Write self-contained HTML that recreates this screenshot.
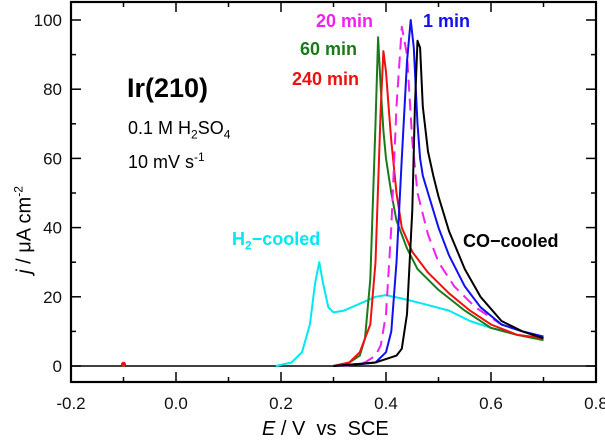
<!DOCTYPE html>
<html><head><meta charset="utf-8"><style>
body{margin:0;background:#fff;font-family:"Liberation Sans",sans-serif}
svg text{font-family:"Liberation Sans",sans-serif}
</style></head><body>
<svg id="c" width="605" height="442" xmlns="http://www.w3.org/2000/svg"></svg>
<script>
const xTicks=[-0.2,0.0,0.2,0.4,0.6,0.8];
const xTickLabels=["-0.2","0.0","0.2","0.4","0.6","0.8"];
const yTicks=[0,20,40,60,80,100];
const yTickLabels=["0","20","40","60","80","100"];
const blueE=[0.30,0.35,0.38,0.40,0.41,0.42,0.43,0.44,0.447,0.453,0.46,0.465,0.47,0.48,0.50,0.52,0.55,0.58,0.62,0.66,0.70];
const blueJ=[0,0.5,1,4,10,30,60,88,100,92,70,60,55,50,40,32,23,17,12,10,8.5];
const blackE=[0.30,0.38,0.42,0.43,0.44,0.45,0.455,0.46,0.465,0.47,0.48,0.49,0.50,0.52,0.55,0.58,0.62,0.66,0.70];
const blackJ=[0,1,3,5,15,45,75,94,92,75,62,55,49,39,28,20,13,10,8];
const greenE=[0.30,0.33,0.35,0.36,0.37,0.38,0.385,0.39,0.395,0.40,0.41,0.42,0.44,0.46,0.50,0.55,0.60,0.65,0.70];
const greenJ=[0,1,3,8,25,70,95,80,68,60,50,42,34,28,22,16,11,9,7.5];
const redE=[0.30,0.33,0.35,0.37,0.38,0.39,0.395,0.40,0.405,0.41,0.42,0.43,0.45,0.48,0.52,0.56,0.60,0.65,0.70];
const redJ=[0,1,4,12,30,75,91,85,75,65,50,40,33,27,21,16,12,9,8];
const magE=[0.32,0.36,0.38,0.39,0.40,0.41,0.42,0.43,0.44,0.45,0.46,0.48,0.50,0.53,0.57,0.62,0.66,0.70];
const magJ=[0,1,3,6,15,40,75,98,90,65,50,38,30,23,17,12,10,8];
const cyanE=[0.19,0.22,0.24,0.255,0.265,0.273,0.28,0.29,0.30,0.32,0.35,0.38,0.40,0.43,0.47,0.52,0.56,0.60,0.65,0.70];
const cyanJ=[0,1,4,12,24,30,24,17,15.5,16,18,20,20.5,19.5,18,16,13,11,9,8];

const svg=document.getElementById('c');
const NS='http://www.w3.org/2000/svg';
const X=e=>176+(e)*525;
const Y=j=>366-j*3.46;
function mk(t,a){const el=document.createElementNS(NS,t);for(const k in a)el.setAttribute(k,a[k]);svg.appendChild(el);return el;}
let f=mk('rect',{x:71,y:2,width:525,height:380,fill:'none',stroke:'#000','stroke-width':2.2});


let z=mk('line',{x1:71,x2:596,y1:Y(0),y2:Y(0),stroke:'#000','stroke-width':1.5});


for(let v=-0.2;v<=0.801;v+=0.1){const x=X(v);const maj=Math.abs(Math.round(v*10))%2===0;const l=maj?10:5;
 mk('line',{x1:x,x2:x,y1:382,y2:382-l,stroke:'#000','stroke-width':1.5});
 mk('line',{x1:x,x2:x,y1:2,y2:2+l,stroke:'#000','stroke-width':1.5});}
xTicks.forEach((v,i)=>{const t=mk('text',{x:X(v),y:409,'font-size':17,'text-anchor':'middle',fill:'#111'});t.textContent=xTickLabels[i];
 
 });
for(let v=0;v<=100;v+=10){const y=Y(v);const l=v%20===0?10:5;
 mk('line',{x1:71,x2:71+l,y1:y,y2:y,stroke:'#000','stroke-width':1.5});
 mk('line',{x1:596,x2:596-l,y1:y,y2:y,stroke:'#000','stroke-width':1.5});}
yTicks.forEach((v,i)=>{const t=mk('text',{x:62,y:Y(v)+6,'font-size':17,'text-anchor':'end',fill:'#111'});t.textContent=yTickLabels[i];
 
 });
function series(E,J,col,name,dash){const d=E.map((e,i)=>(i?'L':'M')+X(e).toFixed(1)+','+Y(J[i]).toFixed(1)).join('');
 const p=mk('path',{d:d,fill:'none',stroke:col,'stroke-width':2,'stroke-linejoin':'round'});if(dash)p.setAttribute('stroke-dasharray',dash);
 
 }
series(cyanE,cyanJ,'#00e8f0','series-h2-cooled');
series(greenE,greenJ,'#1a7a1a','series-60-min');
series(redE,redJ,'#f01010','series-240-min');
series(magE,magJ,'#f020f0','series-20-min','12,7');
series(blueE,blueJ,'#1010f0','series-1-min');
series(blackE,blackJ,'#000','series-co-cooled');
let dot=mk('circle',{cx:X(-0.1),cy:Y(0.5),r:2.5,fill:'#f01010'});


</script>
<div style="position:absolute;left:0;top:0;width:605px;height:442px;pointer-events:none">
<div style="position:absolute;left:24px;top:230px;transform:translate(-50%,-50%) rotate(-90deg);font-size:20px;white-space:nowrap"><i>j</i> / μA cm<sup style="font-size:12px">-2</sup></div>
<div style="position:absolute;left:262px;top:418px;font-size:20px;white-space:nowrap"><i>E</i> / V &nbsp;vs &nbsp;SCE</div>
<div style="position:absolute;left:127px;top:73px;font-size:27px;font-weight:bold">Ir(210)</div>
<div style="position:absolute;left:128px;top:118px;font-size:18px">0.1 M H<sub style="font-size:12px">2</sub>SO<sub style="font-size:12px">4</sub></div>
<div style="position:absolute;left:128px;top:150px;font-size:18px">10 mV s<sup style="font-size:12px">-1</sup></div>
<div style="position:absolute;left:316px;top:11px;font-size:18px;font-weight:bold;color:#f020f0">20 min</div>
<div style="position:absolute;left:423px;top:11px;font-size:18px;font-weight:bold;color:#1010f0">1 min</div>
<div style="position:absolute;left:300px;top:39px;font-size:18px;font-weight:bold;color:#1a7a1a">60 min</div>
<div style="position:absolute;left:292px;top:69px;font-size:18px;font-weight:bold;color:#f01010">240 min</div>
<div style="position:absolute;left:232px;top:229px;font-size:18px;font-weight:bold;color:#00e8f0">H<sub style="font-size:12px">2</sub>−cooled</div>
<div style="position:absolute;left:463px;top:231px;font-size:18px;font-weight:bold;color:#000">CO−cooled</div>
</div>
</body></html>
